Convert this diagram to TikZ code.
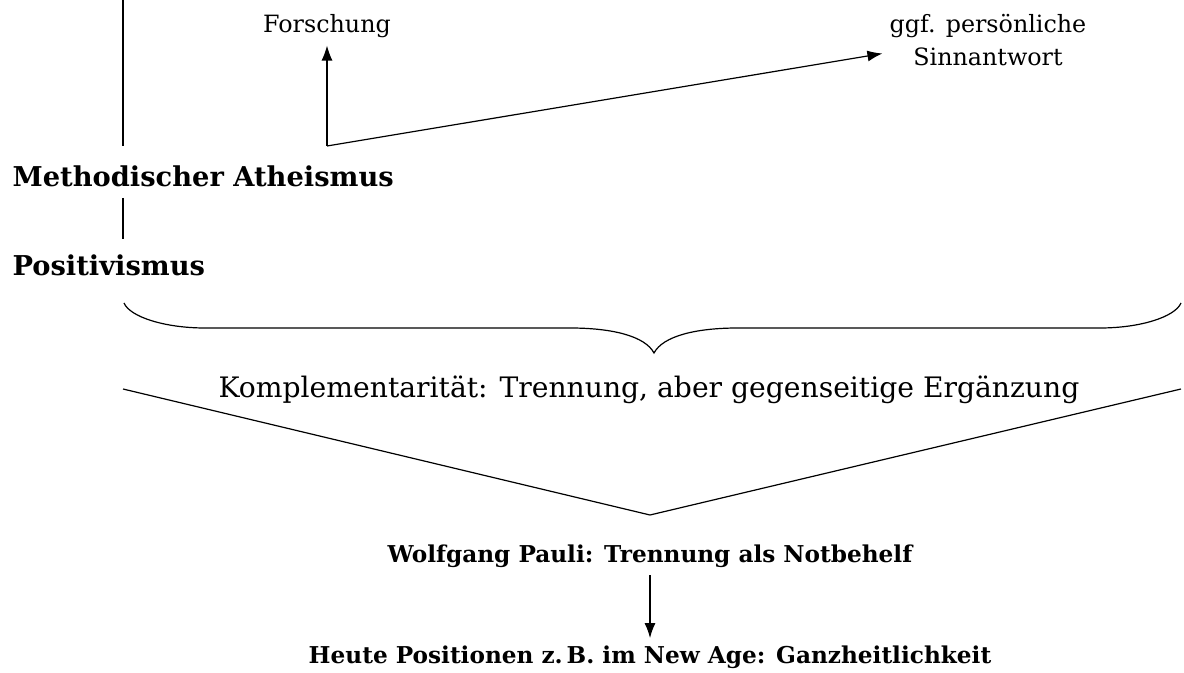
\documentclass[tikz,border=0pt]{standalone}
\usepackage{fontspec}
\setmainfont{DejaVu Serif}
\usetikzlibrary{positioning,arrows.meta}

\begin{document}
\begin{tikzpicture}[
    x=0.5pt,
    y=-0.5pt,
    line width=0.6pt,
    >={Latex[length=7.5pt,width=5.5pt]},
    label/.style={
        font=\fontsize{11.9}{16.5}\selectfont,
        align=center
    },
    headline/.style={
        font=\fontsize{13.65}{16}\selectfont\bfseries,
        inner sep=0pt
    },
    result/.style={
        font=\fontsize{11.6}{16}\selectfont\bfseries
    },
    wide/.style={
        font=\fontsize{14.1}{18}\selectfont
    },
    arrow/.style={
        ->
    }
]
\useasboundingbox (0,0) rectangle (1184,673);

% upper part
\coordinate (top) at (123,0);
\coordinate (corner) at (327,146);
\node[headline, anchor=base west] (meth) at (12,187) {Methodischer Atheismus};
\node[headline, anchor=base west] (posit) at (12,276) {Positivismus};
\node[label, anchor=base] (forsch) at (327,33) {Forschung};
\node[label, anchor=base] (sinn) at (988,66) {ggf. persönliche\\Sinnantwort};

\draw[shorten >=10pt] (top) -- (meth.north -| top);
\draw[shorten <=5pt, shorten >=8pt] (meth.south -| top) -- (posit.north -| top);
\draw[arrow] (corner) -- (forsch);
\draw[arrow] (corner) -- (sinn.187);

% brace
\draw (124,303) .. controls (130,317) and (165,328) .. (205,328) -- (570,328)
      .. controls (612,328) and (645,336) .. (654,353)
      .. controls (663,336) and (696,328) .. (738,328) -- (1100,328)
      .. controls (1140,328) and (1175,317) .. (1181,303);

% lower part
\node[wide, anchor=base] (kompl) at (649,398) {Komplementarität: Trennung, aber gegenseitige Ergänzung};
\draw (123,389) -- (650,515) -- (1181,389);

\node[result, anchor=base] (pauli) at (650,563) {Wolfgang Pauli: Trennung als Notbehelf};
\node[result, anchor=base] (heute) at (650,663) {Heute Positionen z.\,B. im New Age: Ganzheitlichkeit};
\draw[arrow] (pauli) -- (heute);

\end{tikzpicture}
\end{document}
